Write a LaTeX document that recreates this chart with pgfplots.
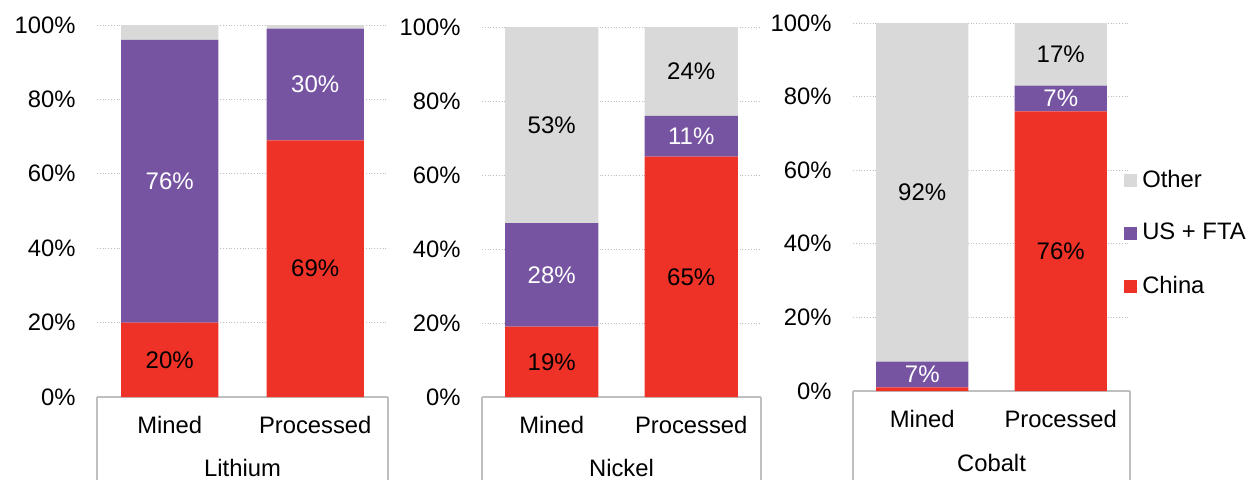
\documentclass[border=0pt]{standalone}
\usepackage{fontspec}
\setmainfont{Liberation Sans}
\usepackage{pgfplots}
\pgfplotsset{compat=1.18}
\definecolor{cnred}{RGB}{238,50,39}
\definecolor{uspurple}{RGB}{118,84,162}
\definecolor{othgray}{RGB}{217,217,217}
\definecolor{gridgray}{RGB}{190,190,190}
\definecolor{boxgray}{RGB}{191,191,191}
\pgfplotsset{
  panel/.style={
    scale only axis, ybar stacked, bar width=0.667,
    xmin=-0.5, xmax=1.5, ymin=0, ymax=100,
    xtick={0,1}, xticklabels={Mined,Processed},
    ytick={0,20,40,60,80,100}, yticklabels={0\%,20\%,40\%,60\%,80\%,100\%},
    ymajorgrids, grid style={densely dotted, gridgray, line width=0.5pt},
    axis line style={draw=none}, major tick length=0pt,
    tick label style={font=\fontsize{11.9}{13}\selectfont},
    xticklabel style={anchor=center, yshift=-14pt, inner sep=0pt},
    yticklabel style={anchor=east, xshift=-10.5pt, inner sep=0pt},
    clip=false,
    /pgf/number format/assume math mode=true,
    visualization depends on=rawy \as \rawy,
    nodes near coords={\ifdim\rawy pt<5pt\relax\else\pgfmathprintnumber[assume math mode=true]{\rawy}\%\fi},
    every node near coord/.append style={anchor=center, font=\fontsize{12}{13}\selectfont},
  },
  cn/.style={fill=cnred, draw=none, every node near coord/.append style={black}},
  us/.style={fill=uspurple, draw=none, every node near coord/.append style={white}},
  ot/.style={fill=othgray, draw=none, every node near coord/.append style={black}},
}
\begin{document}
\begin{tikzpicture}[font=\fontsize{11.9}{13}\selectfont]
\path[use as bounding box] (0,0) rectangle (625pt,239.5pt);
% Lithium
\begin{axis}[panel, at={(48.5pt,41pt)}, anchor=south west, width=145.5pt, height=186pt]
\addplot[cn] coordinates {(0,20) (1,69)};
\addplot[us] coordinates {(0,76) (1,30)};
\addplot[ot] coordinates {(0,4) (1,1)};
\draw[boxgray, line width=0.6pt] (rel axis cs:0,0) -- (rel axis cs:1,0);
\draw[boxgray, line width=0.6pt] (rel axis cs:0,0) -- ++(0pt,-45pt);
\draw[boxgray, line width=0.6pt] (rel axis cs:1,0) -- ++(0pt,-45pt);
\node at (rel axis cs:0.5,0) [yshift=-35.5pt] {Lithium};
\end{axis}
% Nickel
\begin{axis}[panel, at={(241pt,41pt)}, anchor=south west, width=139.5pt, height=185pt]
\addplot[cn] coordinates {(0,19) (1,65)};
\addplot[us] coordinates {(0,28) (1,11)};
\addplot[ot] coordinates {(0,53) (1,24)};
\draw[boxgray, line width=0.6pt] (rel axis cs:0,0) -- (rel axis cs:1,0);
\draw[boxgray, line width=0.6pt] (rel axis cs:0,0) -- ++(0pt,-45pt);
\draw[boxgray, line width=0.6pt] (rel axis cs:1,0) -- ++(0pt,-45pt);
\node at (rel axis cs:0.5,0) [yshift=-35.5pt] {Nickel};
\end{axis}
% Cobalt
\begin{axis}[panel, at={(426.5pt,44pt)}, anchor=south west, width=138.5pt, height=184pt,
  reverse legend,
  legend style={at={(0.978,0.429)}, anchor=west, draw=none, fill=none, inner sep=0pt,
    row sep=16.5pt, font=\fontsize{11.9}{13}\selectfont,
    nodes={inner sep=0pt, inner xsep=2.5pt}},
  legend cell align=left,
  legend image code/.code={\fill[#1] (0pt,-3.25pt) rectangle (6.5pt,3.25pt);}]
\addplot[cn] coordinates {(0,1) (1,76)};
\addplot[us] coordinates {(0,7) (1,7)};
\addplot[ot] coordinates {(0,92) (1,17)};
\legend{China, US + FTA, Other}
\draw[boxgray, line width=0.6pt] (rel axis cs:0,0) -- (rel axis cs:1,0);
\draw[boxgray, line width=0.6pt] (rel axis cs:0,0) -- ++(0pt,-45pt);
\draw[boxgray, line width=0.6pt] (rel axis cs:1,0) -- ++(0pt,-45pt);
\node at (rel axis cs:0.5,0) [yshift=-36pt] {Cobalt};
\end{axis}
\end{tikzpicture}
\end{document}
